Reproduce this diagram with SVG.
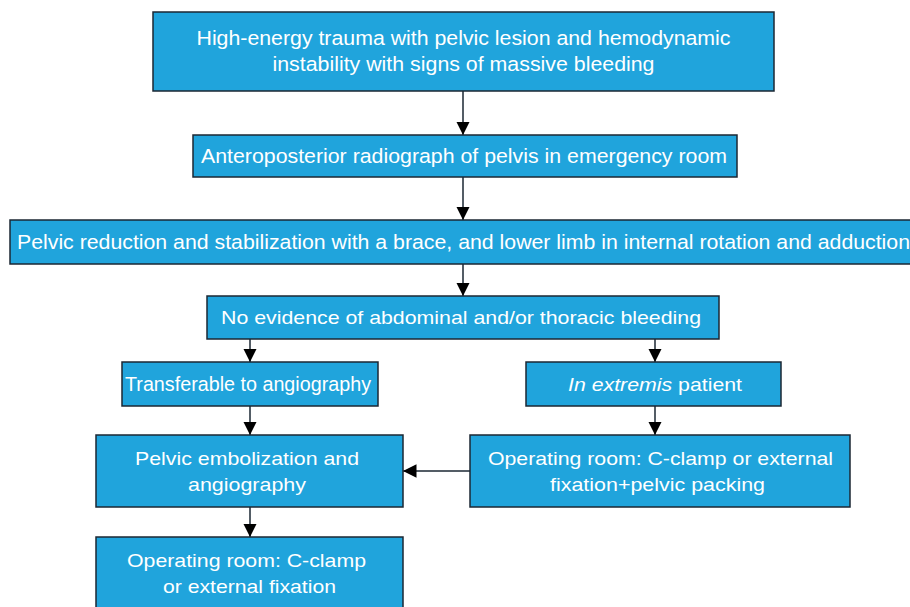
<svg xmlns="http://www.w3.org/2000/svg" width="910" height="607" viewBox="0 0 910 607">
<style>
.box{fill:#20a4dc;stroke:#1b2733;stroke-width:1.5}
.t{fill:#fff;font-family:"Liberation Sans",Arial,sans-serif;font-size:19px;text-anchor:middle}
.n{font-size:20.5px}
.c{stroke:#1b2733;stroke-width:1.5;fill:none;marker-end:url(#ah)}
</style>
<defs>
<marker id="ah" viewBox="0 0 10 10" refX="10" refY="5" markerWidth="9" markerHeight="9" markerUnits="strokeWidth" orient="auto">
<path d="M0,0 L10,5 L0,10 z" fill="#000"/>
</marker>
</defs>
<rect width="910" height="607" fill="#fff"/>
<g id="connectors">
<line class="c" x1="463" y1="91" x2="463" y2="135"/>
<line class="c" x1="463" y1="177" x2="463" y2="220"/>
<line class="c" x1="463" y1="264" x2="463" y2="296"/>
<line class="c" x1="250" y1="339" x2="250" y2="362"/>
<line class="c" x1="655" y1="339" x2="655" y2="362"/>
<line class="c" x1="250" y1="406" x2="250" y2="435"/>
<line class="c" x1="655" y1="406" x2="655" y2="435"/>
<line class="c" x1="470" y1="471" x2="403" y2="471"/>
<line class="c" x1="250" y1="507" x2="250" y2="537"/>
</g>
<g id="n1">
<rect class="box" x="153" y="12" width="621" height="79"/>
<text class="t n" x="463.5" y="45" textLength="534" lengthAdjust="spacingAndGlyphs">High-energy trauma with pelvic lesion and hemodynamic</text>
<text class="t n" x="463.5" y="71" textLength="382" lengthAdjust="spacingAndGlyphs">instability with signs of massive bleeding</text>
</g>
<g id="n2">
<rect class="box" x="193" y="135" width="544" height="42"/>
<text class="t n" x="464" y="163" textLength="526" lengthAdjust="spacingAndGlyphs">Anteroposterior radiograph of pelvis in emergency room</text>
</g>
<g id="n3">
<rect class="box" x="10" y="220" width="910" height="44"/>
<text class="t n" x="463.5" y="249" textLength="893" lengthAdjust="spacingAndGlyphs">Pelvic reduction and stabilization with a brace, and lower limb in internal rotation and adduction</text>
</g>
<g id="n4">
<rect class="box" x="207" y="296" width="512" height="43"/>
<text class="t" x="461" y="324" textLength="480" lengthAdjust="spacingAndGlyphs">No evidence of abdominal and/or thoracic bleeding</text>
</g>
<g id="n5">
<rect class="box" x="122" y="362" width="256" height="44"/>
<text class="t n" x="248" y="391" textLength="246" lengthAdjust="spacingAndGlyphs">Transferable to angiography</text>
</g>
<g id="n6">
<rect class="box" x="526" y="362" width="255" height="44"/>
<text class="t" x="655" y="391" textLength="174" lengthAdjust="spacingAndGlyphs"><tspan font-style="italic">In extremis</tspan> patient</text>
</g>
<g id="n7">
<rect class="box" x="96" y="435" width="307" height="72"/>
<text class="t" x="247" y="465" textLength="224" lengthAdjust="spacingAndGlyphs">Pelvic embolization and</text>
<text class="t" x="247" y="491" textLength="118" lengthAdjust="spacingAndGlyphs">angiography</text>
</g>
<g id="n8">
<rect class="box" x="470" y="435" width="380" height="72"/>
<text class="t" x="660.5" y="465" textLength="345" lengthAdjust="spacingAndGlyphs">Operating room: C-clamp or external</text>
<text class="t" x="657.5" y="491" textLength="215" lengthAdjust="spacingAndGlyphs">fixation+pelvic packing</text>
</g>
<g id="n9">
<rect class="box" x="96" y="537" width="307" height="80"/>
<text class="t" x="246.5" y="567" textLength="239" lengthAdjust="spacingAndGlyphs">Operating room: C-clamp</text>
<text class="t" x="249.5" y="593" textLength="173" lengthAdjust="spacingAndGlyphs">or external fixation</text>
</g>
</svg>
